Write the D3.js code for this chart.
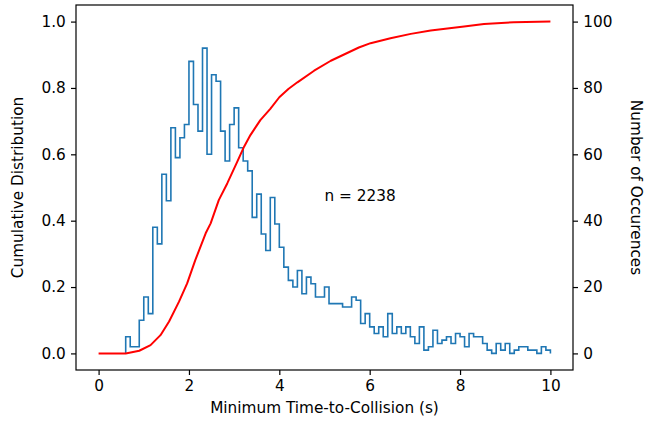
<!DOCTYPE html>
<html>
<head>
	<meta charset="utf-8">
	<title>Minimum Time-to-Collision</title>
	<script src="https://d3js.org/d3.v7.min.js"></script>
	<style>
		html, body {
			margin: 0;
			background: white;
		}
		svg text {
			font-family: "DejaVu Sans", sans-serif;
			fill: black;
		}
	</style>
</head>
<body>
	<svg id="svg"></svg>
	<script>
		// histogram: bins of width 0.1 starting at 0.6
		const binStart = 0.6;
		const binWidth = 0.1;
		const counts = [
			5, 2, 2, 10, 17, 12, 38, 33, 54, 46,
			68, 59, 65, 69, 88, 75, 67, 92, 60, 84,
			82, 67, 58, 69, 74, 62, 58, 55, 41, 48,
			36, 31, 47, 39, 32, 26, 22, 20, 25, 18,
			23, 21, 17, 17, 20, 15, 15, 15, 14, 14,
			17, 16, 9, 12, 8, 6, 8, 5, 12, 6,
			8, 6, 8, 5, 3, 8, 1, 2, 7, 3,
			4, 5, 3, 6, 5, 2, 6, 5, 5, 3,
			1, 0, 3, 1, 3, 0, 1, 2, 2, 1,
			1, 0, 2, 1
		];

		// cumulative distribution (red line)
		const cdfX = [0, 0.6, 0.9, 1.15, 1.37, 1.56, 1.78, 1.96, 2.14, 2.37, 2.48, 2.66, 2.85, 3.07, 3.22, 3.36,
			3.58, 3.8, 4.0, 4.2, 4.4, 4.77, 5.14, 5.76, 6.02, 6.46, 6.91, 7.35, 8.09, 8.53, 9.19, 10];
		const cdfY = [0, 0, 0.008, 0.025, 0.055, 0.096, 0.156, 0.211, 0.281, 0.362, 0.392, 0.462, 0.513, 0.578, 0.623, 0.658,
			0.703, 0.737, 0.772, 0.797, 0.817, 0.852, 0.882, 0.922, 0.935, 0.95, 0.963, 0.973, 0.985, 0.993, 0.998, 1.0];

		const xTicks = [0, 2, 4, 6, 8, 10];
		const leftTicks = [0, 0.2, 0.4, 0.6, 0.8, 1.0];
		const rightTicks = [0, 20, 40, 60, 80, 100];
		const nTotal = 2238;

		const width = 645, height = 422;
		const box = {left: 76, right: 573, top: 5, bottom: 370};
		const fontSize = "15.3px";

		const svg = d3.select("#svg")
		.attr("width", width)
		.attr("height", height);

		const scaleX = d3.scaleLinear().domain([-0.5, 10.5]).range([box.left, box.right]);
		const scaleL = d3.scaleLinear().domain([-0.05, 1.05]).range([box.bottom, box.top]);
		const scaleR = d3.scaleLinear().domain([-5, 105]).range([box.bottom, box.top]);

		// histogram outline
		const histPts = [[binStart, 0]];
		counts.forEach((c, i) => {
			const x0 = binStart + i * binWidth;
			histPts.push([x0, c], [x0 + binWidth, c]);
		});
		histPts.push([binStart + counts.length * binWidth, 0]);

		const histLine = d3.line()
		.x(d => scaleX(d[0]))
		.y(d => scaleR(d[1]));

		svg.append("path")
		.attr("d", histLine(histPts))
		.attr("fill", "none")
		.attr("stroke", "#1f77b4")
		.attr("stroke-width", 1.6)
		.attr("stroke-linejoin", "miter");

		const cdfLine = d3.line()
		.x((d, i) => scaleX(cdfX[i]))
		.y(d => scaleL(d));

		svg.append("path")
		.attr("d", cdfLine(cdfY))
		.attr("fill", "none")
		.attr("stroke", "red")
		.attr("stroke-width", 2)
		.attr("stroke-linejoin", "round");

		// frame
		svg.append("rect")
		.attr("x", box.left)
		.attr("y", box.top)
		.attr("width", box.right - box.left)
		.attr("height", box.bottom - box.top)
		.attr("fill", "none")
		.attr("stroke", "black")
		.attr("stroke-width", 1.2);

		function styleAxis(g) {
			g.select(".domain").remove();
			g.selectAll(".tick line").attr("stroke", "black").attr("stroke-width", 1.2);
			g.selectAll(".tick text").style("font-size", fontSize);
		}

		svg.append("g")
		.attr("transform", `translate(0, ${box.bottom})`)
		.call(d3.axisBottom(scaleX).tickValues(xTicks).tickFormat(d3.format("d")).tickSize(5).tickPadding(5.2))
		.call(styleAxis);

		svg.append("g")
		.attr("transform", `translate(${box.left}, 0)`)
		.call(d3.axisLeft(scaleL).tickValues(leftTicks).tickFormat(d3.format(".1f")).tickSize(5).tickPadding(5.2))
		.call(styleAxis);

		svg.append("g")
		.attr("transform", `translate(${box.right}, 0)`)
		.call(d3.axisRight(scaleR).tickValues(rightTicks).tickFormat(d3.format("d")).tickSize(5).tickPadding(5.2))
		.call(styleAxis);

		// labels
		svg.append("text")
		.attr("x", (box.left + box.right) / 2)
		.attr("y", 413)
		.attr("text-anchor", "middle")
		.style("font-size", fontSize)
		.text("Minimum Time-to-Collision (s)");

		svg.append("text")
		.attr("transform", `translate(23, ${(box.top + box.bottom) / 2}) rotate(-90)`)
		.attr("text-anchor", "middle")
		.style("font-size", fontSize)
		.text("Cumulative Distribution");

		svg.append("text")
		.attr("transform", `translate(631, ${(box.top + box.bottom) / 2}) rotate(90)`)
		.attr("text-anchor", "middle")
		.style("font-size", fontSize)
		.text("Number of Occurences");

		svg.append("text")
		.attr("x", scaleX(5))
		.attr("y", scaleL(0.46))
		.style("font-size", fontSize)
		.text(`n = ${nTotal}`);
	</script>
</body>
</html>
